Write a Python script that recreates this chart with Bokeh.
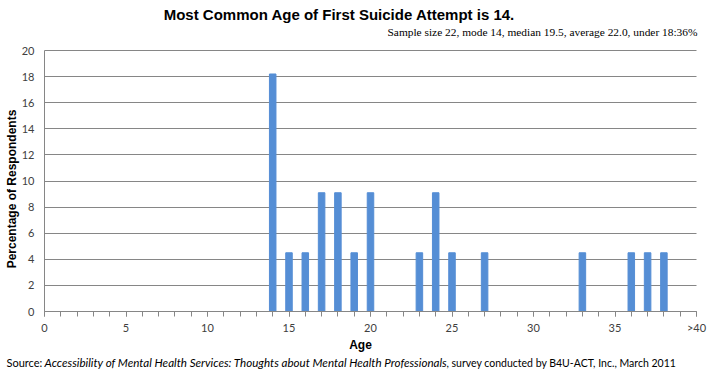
import math
from bokeh.plotting import figure
from bokeh.models import Label, FixedTicker, Range1d
from bokeh.embed import file_html
from bokeh.resources import INLINE

# ---- data ----
ages = [14, 15, 16, 17, 18, 19, 20, 23, 24, 25, 27, 33, 36, 37, 38]
percent = [18.2, 4.5, 4.5, 9.1, 9.1, 4.5, 9.1, 4.5, 9.1, 4.5, 4.5, 4.5, 4.5, 4.5, 4.5]
x_major_ticks = [0, 5, 10, 15, 20, 25, 30, 35, 40]
x_minor_ticks = list(range(41))
x_tick_labels = {40: ">40"}
y_ticks = [0, 2, 4, 6, 8, 10, 12, 14, 16, 18, 20]

title_text = "Most Common Age of First Suicide Attempt is 14."
subtitle_text = "Sample size 22, mode 14, median 19.5, average 22.0, under 18:36%"
ylabel_text = "Percentage of Respondents"
xlabel_text = "Age"
src_a = "Source: "
src_b = "Accessibility of Mental Health Services: Thoughts about Mental Health Professionals"
src_c = ", survey conducted by B4U-ACT, Inc., March 2011"

# ---- layout (pixels) ----
W, H = 707, 370
X_LO_PX, X_HI_PX = 44.0, 696.0     # where x = 0 and x = 40 fall
Y_LO_PX, Y_HI_PX = 311.0, 50.0     # where y = 0 and y = 20 fall
XMAX, YMAX = 40.0, 20.0
ppx = (X_HI_PX - X_LO_PX) / XMAX
ppy = (Y_LO_PX - Y_HI_PX) / YMAX

def dx(px):
    return (px - X_LO_PX) / ppx

def dy(py):
    return (Y_LO_PX - py) / ppy

GRAY = "#868686"
TXT = "#404040"

p = figure(width=W, height=H, output_backend="svg", toolbar_location=None,
           x_range=Range1d(dx(0), dx(W)), y_range=Range1d(dy(H), dy(0)),
           min_border=0, min_border_left=0, min_border_right=0,
           min_border_top=0, min_border_bottom=0)
p.title.visible = False
p.outline_line_color = None
p.background_fill_color = "white"
p.border_fill_color = "white"

# grid lines (only across the plot area)
g = p.ygrid[0]
g.ticker = FixedTicker(ticks=y_ticks)
g.grid_line_color = GRAY
g.grid_line_width = 1
if "cross_bounds" in g.properties():
    g.cross_bounds = (0, XMAX)
else:
    g.visible = False
    p.segment(x0=[0] * len(y_ticks), x1=[XMAX] * len(y_ticks), y0=y_ticks, y1=y_ticks,
              line_color=GRAY, line_width=1)
p.xgrid.visible = False

p.vbar(x=ages, top=percent, width=0.4, color="#558ED5")

xa = p.xaxis[0]
xa.fixed_location = 0
xa.bounds = (0, XMAX)
xa.ticker = FixedTicker(ticks=x_major_ticks, minor_ticks=x_minor_ticks)
xa.major_label_overrides = x_tick_labels
xa.axis_line_color = GRAY
xa.major_tick_line_color = GRAY
xa.minor_tick_line_color = GRAY
xa.major_tick_in = 0
xa.major_tick_out = 5
xa.minor_tick_in = 0
xa.minor_tick_out = 5
xa.major_label_text_font = "Lato"
xa.major_label_text_font_size = "11px"
xa.major_label_text_color = TXT
xa.major_label_standoff = 4

ya = p.yaxis[0]
ya.fixed_location = 0
ya.bounds = (0, YMAX)
ya.ticker = FixedTicker(ticks=y_ticks)
ya.axis_line_color = GRAY
ya.major_tick_line_color = None
ya.minor_tick_line_color = None
ya.major_label_text_font = "Lato"
ya.major_label_text_font_size = "11px"
ya.major_label_text_color = TXT
ya.major_label_standoff = 4


def lab(text, px, py, **kw):
    d = dict(x=dx(px), y=dy(py), text=text, text_baseline="middle", text_color="black")
    d.update(kw)
    p.add_layout(Label(**d))


lab(title_text, 339, 14, text_font="Liberation Sans", text_font_style="bold",
    text_font_size="15px", text_align="center")
lab(subtitle_text, 697, 31, text_font="Liberation Serif", text_font_size="11.4px",
    text_align="right")
lab(ylabel_text, 11, 188.5, angle=math.pi / 2, text_font="Liberation Sans",
    text_font_style="bold", text_font_size="12px", text_align="center")
lab(xlabel_text, 360, 344, text_font="Liberation Sans", text_font_style="bold",
    text_font_size="12px", text_align="center")

lab(src_a, 6, 362, text_font="Lato", text_font_size="11px", text_align="left")
lab(src_b, 44, 362, text_font="Lato", text_font_style="italic", text_font_size="11.6px",
    text_align="left")
lab(src_c, 446, 362, text_font="Lato", text_font_size="10.5px", text_align="left")

open("out.html", "w").write(file_html(p, INLINE))
